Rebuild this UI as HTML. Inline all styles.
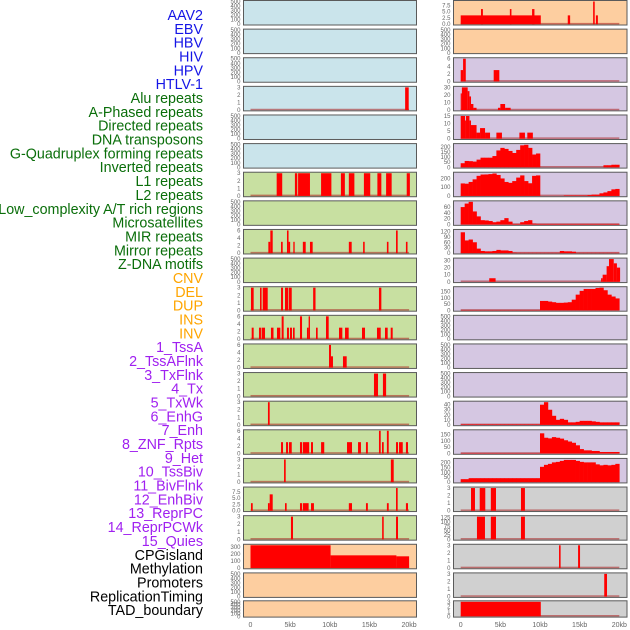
<!DOCTYPE html>
<html><head><meta charset="utf-8"><style>
html,body{margin:0;padding:0;background:#fff;width:630px;height:630px;overflow:hidden}
svg{display:block}
</style></head><body>
<svg id="chart" width="630" height="630" xmlns="http://www.w3.org/2000/svg"></svg>
<script>
// ---- data (kb ranges and values) ----
const trackLabels = ["AAV2","EBV","HBV","HIV","HPV","HTLV-1","Alu repeats","A-Phased repeats","Directed repeats","DNA transposons","G-Quadruplex forming repeats","Inverted repeats","L1 repeats","L2 repeats","Low_complexity A/T rich regions","Microsatellites","MIR repeats","Mirror repeats","Z-DNA motifs","CNV","DEL","DUP","INS","INV","1_TssA","2_TssAFlnk","3_TxFlnk","4_Tx","5_TxWk","6_EnhG","7_Enh","8_ZNF_Rpts","9_Het","10_TssBiv","11_BivFlnk","12_EnhBiv","13_ReprPC","14_ReprPCWk","15_Quies","CPGisland","Methylation","Promoters","ReplicationTiming","TAD_boundary"];
const xTickValues = [0,5,10,15,20];
const xTickLabels = ["0","5kb","10kb","15kb","20kb"];
const emptyTicks = [0,100,200,300,400,500];
const ticks3 = [0,1,2,3];
const ticks6 = [0,2,4,6];
const ticks75 = [0,2.5,5,7.5];
const ticks75Labels = ["0.0","2.5","5.0","7.5"];

const hivSeg=[[19.5,19.95,3]];
const aluSeg=[[3.3,4.0,3],[5.6,5.9,3],[6.0,7.5,3],[8.9,10.2,3],[11.4,11.9,3],[12.4,13.1,3],[14.3,15.1,3],[16.0,16.5,3],[17.1,17.8,3],[19.7,20.1,3]];
const directedSeg=[[2.25,2.5,3],[2.5,2.8,6],[3.85,4.06,3],[4.6,4.8,6],[4.8,5.0,3],[5.4,5.57,3],[6.6,6.96,3],[7.5,7.84,3],[12.4,12.76,3],[14.2,14.4,3],[17.2,17.4,3],[18.35,18.56,6],[19.6,19.8,3]];
const gquadSeg=[[0.06,0.4,3],[1.2,1.4,3],[1.54,2.17,3],[3.85,4.1,3],[4.35,4.77,3],[4.85,5.2,3],[7.9,8.2,3],[16.2,16.5,3]];
const invertedSeg=[[0.15,0.4,3],[1.07,1.32,3],[1.4,1.83,3],[2.58,2.9,3],[3.34,3.76,3],[3.93,4.18,6],[4.6,4.85,3],[4.98,5.23,3],[5.36,5.57,3],[6.24,6.5,6],[7.12,7.33,3],[7.33,7.5,6],[8.26,8.47,3],[9.52,9.86,6],[11.16,11.58,3],[11.92,12.38,3],[14.06,14.44,3],[15.95,16.42,3],[16.96,17.3,3],[17.68,17.93,3]];
const l1Seg=[[9.9,10.15,6],[10.15,10.4,3],[11.66,12.13,3]];
const l2Seg=[[15.57,16.08,3],[16.7,17.1,3]];
const lowcSeg=[[2.2,2.42,3]];
const microSeg=[[3.85,4.1,3],[4.48,4.73,3],[4.85,5.2,3],[6.24,6.5,3],[6.6,7.4,3],[7.63,7.88,3],[8.9,9.3,3],[12.17,12.8,3],[13.56,13.93,3],[14.56,14.8,3],[16.2,16.42,6],[16.58,16.8,3],[17.2,17.43,6],[18.35,18.6,3],[18.73,19.2,3],[19.6,19.86,3]];
const mirSeg=[[4.23,4.44,3],[17.7,18.06,3]];
const mirrorSeg=[[0.06,0.28,3],[2.2,2.42,3],[2.42,2.8,6.5],[4.35,4.56,3],[6.24,6.5,3],[6.6,7.33,3],[7.63,8.0,3],[12.4,12.8,3],[14.56,14.8,3],[17.2,17.43,3],[18.35,18.56,9],[19.6,19.86,3]];
const zdnaSeg=[[5.1,5.36,3],[16.6,16.8,3],[18.35,18.6,3]];
const cnvSeg=[[0,10.1,325],[10.1,18.4,181],[18.4,20.0,167]];
const insSeg=[[0,10.1,3.5],[2.56,2.8,6],[6.2,6.4,6],[9.0,9.3,6],[13.5,13.8,3.5],[16.7,16.9,9],[17.05,17.3,3.5]];
const tssaSeg=[[0,0.3,3],[0.3,0.64,6],[4.16,4.87,3]];
const tssaflnkSeg=[[0,0.15,22],[0.15,0.88,30],[0.88,1.1,25],[1.1,1.3,18],[1.3,1.6,8],[1.6,2.0,3],[4.7,5.0,3],[5.0,5.6,8],[5.6,6.3,3]];
const txflnkSeg=[[0,0.55,15],[0.55,0.67,12],[0.67,1.1,15],[1.1,1.3,12],[1.3,2.0,9],[2.0,2.44,4],[2.44,3.07,7],[3.07,3.7,4],[4.5,5.2,4],[7.4,8.1,4],[8.4,9.1,4]];
const txBins=[40,62,60,56,75,94,94,94,110,165,190,180,160,140,170,215,220,190,125,135,0,0,0,0,0,0,0,0,0,0,0,0,0,0,0,0,20,20,25,25];
const txwkBins=[143,140,160,190,230,245,246,250,257,240,200,160,150,170,210,235,170,145,230,235,0,0,0,0,0,0,5,5,5,5,5,5,10,15,15,30,40,55,75,80];
const enhgBins=[60,72,78,45,28,15,14,12,8,10,15,22,10,2,2,8,12,15,3,2,2,2,2,2,2,2,2,2,2,2,2,2,2,2,2,2,2,2,2,2];
const enhBins=[115,70,75,60,25,12,10,10,12,18,15,15,12,3,2,2,2,2,2,2,2,2,2,2,2,12,10,10,8,2,2,2,2,2,2,2,2,2,2,2];
const znfSeg=[[3.6,4.4,5],[17.7,17.9,5],[17.9,18.4,10],[18.4,18.7,22],[18.7,19.3,32],[19.3,19.7,26],[19.7,20.1,20]];
const hetBins=[3,3,3,3,3,3,3,3,3,3,3,3,3,3,3,3,3,3,3,3,75,75,70,65,60,60,62,65,85,125,155,170,170,170,178,180,160,125,110,95];
const reprpcBins=[1,1,1,1,1,1,1,1,1,1,1,1,1,1,1,1,1,1,1,1,40,45,30,18,10,12,10,5,5,6,8,8,8,7,6,5,5,5,5,5];
const reprpcwkBins=[3,3,3,3,3,3,3,3,3,3,3,3,3,3,3,3,3,3,3,3,160,125,120,130,125,118,105,95,85,65,35,25,25,20,20,12,12,12,12,12];
const quiesBins=[30,30,40,40,40,40,40,40,40,40,40,40,40,40,40,40,40,40,40,40,155,175,185,200,205,215,225,225,225,215,205,200,200,200,180,170,175,170,175,185];
const cpgSeg=[[1.3,1.8,3],[2.4,3.1,3],[3.8,4.45,3],[7.6,8.1,3]];
const methSeg=[[2.05,3.06,130],[3.8,4.45,130],[7.6,8.1,130]];
const promSeg=[[12.4,12.6,3],[14.8,15.05,3]];
const reptSeg=[[18.1,18.45,3]];
const tadSeg=[[0,10.1,3]];

const BLUE="#cae4eb",GREEN="#c8e0a1",ORANGE="#fdcea0",PURPLE="#d5c7e2",GRAY="#d0d0d0";
const panels=[
 [0,0,BLUE,emptyTicks,500,null,null],[0,1,BLUE,emptyTicks,500,null,null],[0,2,BLUE,emptyTicks,500,null,null],
 [0,3,BLUE,ticks3,3,hivSeg,null],[0,4,BLUE,emptyTicks,500,null,null],[0,5,BLUE,emptyTicks,500,null,null],
 [0,6,GREEN,ticks3,3,aluSeg,null],[0,7,GREEN,emptyTicks,500,null,null],[0,8,GREEN,ticks6,6,directedSeg,null],
 [0,9,GREEN,emptyTicks,500,null,null],[0,10,GREEN,ticks3,3,gquadSeg,null],[0,11,GREEN,ticks6,6,invertedSeg,null],
 [0,12,GREEN,ticks6,6,l1Seg,null],[0,13,GREEN,ticks3,3,l2Seg,null],[0,14,GREEN,ticks3,3,lowcSeg,null],
 [0,15,GREEN,ticks6,6,microSeg,null],[0,16,GREEN,ticks3,3,mirSeg,null],[0,17,GREEN,ticks75,9,mirrorSeg,null,ticks75Labels],
 [0,18,GREEN,ticks3,3,zdnaSeg,null],[0,19,ORANGE,[0,100,200,300],325,cnvSeg,null],[0,20,ORANGE,emptyTicks,500,null,null],
 [0,21,ORANGE,emptyTicks,500,null,null],
 [1,0,ORANGE,ticks75,9,insSeg,null,ticks75Labels],[1,1,ORANGE,emptyTicks,500,null,null],
 [1,2,PURPLE,ticks6,6,tssaSeg,null],[1,3,PURPLE,[0,10,20,30],30,tssaflnkSeg,null],[1,4,PURPLE,[0,5,10,15],15,txflnkSeg,null],
 [1,5,PURPLE,[0,50,100,150,200],222,null,txBins],[1,6,PURPLE,[0,100,200],260,null,txwkBins],
 [1,7,PURPLE,[0,20,40,60],78,null,enhgBins],[1,8,PURPLE,[0,30,60,90,120],125,null,enhBins],
 [1,9,PURPLE,[0,10,20,30],32,znfSeg,null],[1,10,PURPLE,[0,50,100,150],180,null,hetBins],
 [1,11,PURPLE,emptyTicks,500,null,null],[1,12,PURPLE,emptyTicks,500,null,null],[1,13,PURPLE,emptyTicks,500,null,null],
 [1,14,PURPLE,[0,10,20,30,40],45,null,reprpcBins],[1,15,PURPLE,[0,50,100,150],180,null,reprpcwkBins],
 [1,16,PURPLE,[0,50,100,150,200],230,null,quiesBins],
 [1,17,GRAY,ticks3,3,cpgSeg,null],[1,18,GRAY,[0,25,50,75,100,125],130,methSeg,null],
 [1,19,GRAY,ticks3,3,promSeg,null],[1,20,GRAY,ticks3,3,reptSeg,null],[1,21,GRAY,ticks3,3,tadSeg,null]
];
const labelColors=i=>i<6?"#1515e6":i<19?"#0a6e0a":i<24?"#ffa500":i<39?"#a020f0":"#000";

const NS="http://www.w3.org/2000/svg";
const svg=document.getElementById('chart');
function mk(tag,attrs,parent){const e=document.createElementNS(NS,tag);for(const k in attrs)e.setAttribute(k,attrs[k]);(parent||svg).appendChild(e);return e;}
const colX=[243.5,453.5], colW=[173,173.5], kb0=[250.5,460.7], kbScale=7.93;
function xScale(col,kb){return kb0[col]+kb*kbScale;}
function rowTop(r){return r<21?r*28.62+0.5:600.8;}
function rowH(r){return r<21?24.5:16.3;}

trackLabels.forEach((t,i)=>{
  const e=mk('text',{x:203,y:15+i*13.84+5,'text-anchor':'end','font-size':'14.3','font-family':'Liberation Sans, sans-serif',fill:labelColors(i)});
  e.textContent=t;
  
  
});

panels.forEach((p,pi)=>{
  const [col,row,bg,tks,ymax,seg,bins,tl]=p;
  const g=mk('g',{});
  
  
  const top=rowTop(row),h=rowH(row),x=colX[col],w=colW[col];
  const yb=top+h-0.8, yt=top+1;
  const yS=v=>yb-v/ymax*(yb-yt);
  mk('rect',{x:x,y:top,width:w,height:h,fill:bg,stroke:'#5a5a5a','stroke-width':1},g);
  tks.forEach((t,ti)=>{
    const e=mk('text',{x:x-3,y:yS(t)+2,'text-anchor':'end','font-size':'6','font-family':'Liberation Sans, sans-serif',fill:'#666'},g);
    e.textContent=tl?tl[ti]:String(t);
    
    
  });
  if(seg||bins){
    const bl=mk('rect',{x:xScale(col,0),y:yb-1.3,width:xScale(col,20)-xScale(col,0),height:1.5,fill:'rgba(170,30,30,0.55)'},g);
    
    
  }
  if(seg) seg.forEach(s=>{
    const x1=xScale(col,s[0]),x2=xScale(col,s[1]),y=yS(Math.min(s[2],ymax));
    const r=mk('rect',{x:x1,y:y,width:Math.max(x2-x1,1),height:yb-y,fill:'#ff0000'},g);
    
    
  });
  if(bins) bins.forEach((v,bi)=>{
    if(v<=0)return;
    const x1=xScale(col,bi*0.5),x2=xScale(col,(bi+1)*0.5),y=yS(Math.min(v,ymax));
    const r=mk('rect',{x:x1,y:y,width:x2-x1+0.3,height:yb-y,fill:'#ff0000'},g);
    
    
  });
});

[0,1].forEach(col=>{
  xTickValues.forEach((v,i)=>{
    const e=mk('text',{x:xScale(col,v),y:627,'text-anchor':'middle','font-size':'7','font-family':'Liberation Sans, sans-serif',fill:'#666'});
    e.textContent=xTickLabels[i];
    
    
  });
});
</script>
</body></html>
